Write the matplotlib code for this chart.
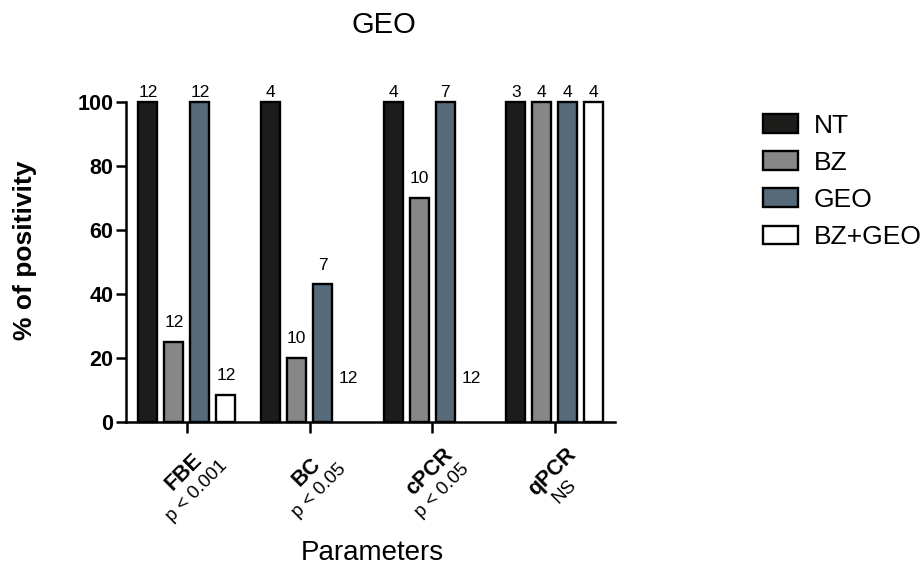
import numpy as np
import matplotlib
matplotlib.use("Agg")
import matplotlib.pyplot as plt
from matplotlib.patches import Patch

plt.rcParams['font.family'] = ['Liberation Sans', 'DejaVu Sans']

params = ["FBE", "BC", "cPCR", "qPCR"]
pvals = ["p < 0.001", "p < 0.05", "p < 0.05", "NS"]
groups = ["NT", "BZ", "GEO", "BZ+GEO"]

# % of positivity per group, one list per treatment
nt = [100, 100, 100, 100]
bz = [25, 20, 70, 100]
geo = [100, 42.9, 100, 100]
bzgeo = [8.3, 0, 0, 100]

# n per bar
n_nt = [12, 4, 4, 3]
n_bz = [12, 10, 10, 4]
n_geo = [12, 7, 7, 4]
n_bzgeo = [12, 12, 12, 4]

colors = ["#1c1c1a", "#878787", "#566a7a", "#ffffff"]

fig = plt.figure(figsize=(9.22, 5.68), dpi=100)
ax = fig.add_axes([126 / 922, 1 - 421.7 / 568, 489 / 922, 320 / 568])

x = np.arange(len(params))
w = 0.155
step = 0.212
series = [nt, bz, geo, bzgeo]
counts = [n_nt, n_bz, n_geo, n_bzgeo]

for k, (vals, ns) in enumerate(zip(series, counts)):
    pos = x + (k - 1.5) * step
    lw = [1.7 if v > 0 else 0 for v in vals]
    ax.bar(pos, vals, width=w, color=colors[k], edgecolor="black",
           linewidth=lw, clip_on=False, zorder=3)
    for px, v, n in zip(pos, vals, ns):
        if v >= 100:
            ty = 102.9
        else:
            ty = max(v, 7.5) + 6
        ax.text(px, ty, str(n), ha="center", va="center", fontsize=12.5,
                clip_on=False)

ax.set_xlim(-0.497, 3.49)
ax.set_ylim(0, 100)
ax.set_yticks([0, 20, 40, 60, 80, 100])
ax.set_xticks(x)
ax.set_xticklabels([])
ax.tick_params(axis="y", direction="out", length=7, width=1.8, pad=2,
               labelsize=15.5)
ax.tick_params(axis="x", direction="out", length=8, width=1.8)
for lab in ax.get_yticklabels():
    lab.set_fontweight("bold")

for s in ["top", "right"]:
    ax.spines[s].set_visible(False)
for s in ["left", "bottom"]:
    ax.spines[s].set_linewidth(1.8)

for i, (name, p) in enumerate(zip(params, pvals)):
    ax.annotate(name, xy=(i, 0), xycoords=("data", "axes fraction"),
                xytext=(-2, -36), textcoords="offset points",
                rotation=45, rotation_mode="anchor", ha="center",
                va="center", fontsize=15.5, fontweight="bold",
                annotation_clip=False)
    ax.annotate(p, xy=(i, 0), xycoords=("data", "axes fraction"),
                xytext=(7, -50), textcoords="offset points",
                rotation=45, rotation_mode="anchor", ha="center",
                va="center", fontsize=13.5, annotation_clip=False)

fig.text(384 / 922, 1 - 25 / 568, "GEO", ha="center", va="center",
         fontsize=21)
fig.text(372 / 922, 2 / 568, "Parameters", ha="center",
         va="bottom", fontsize=20)
fig.text(25 / 922, 1 - 250 / 568, "% of positivity", ha="center",
         va="center", rotation=90, fontsize=19, fontweight="bold")

handles = [Patch(facecolor=c, edgecolor="black", linewidth=1.7)
           for c in colors]
fig.legend(handles, groups, loc="upper left",
           bbox_to_anchor=(752 / 922, 1 - 103 / 568), frameon=False,
           fontsize=19, handlelength=1.35, handleheight=0.7,
           labelspacing=0.5, handletextpad=0.6, borderaxespad=0)

fig.savefig("out.png", dpi=100)
